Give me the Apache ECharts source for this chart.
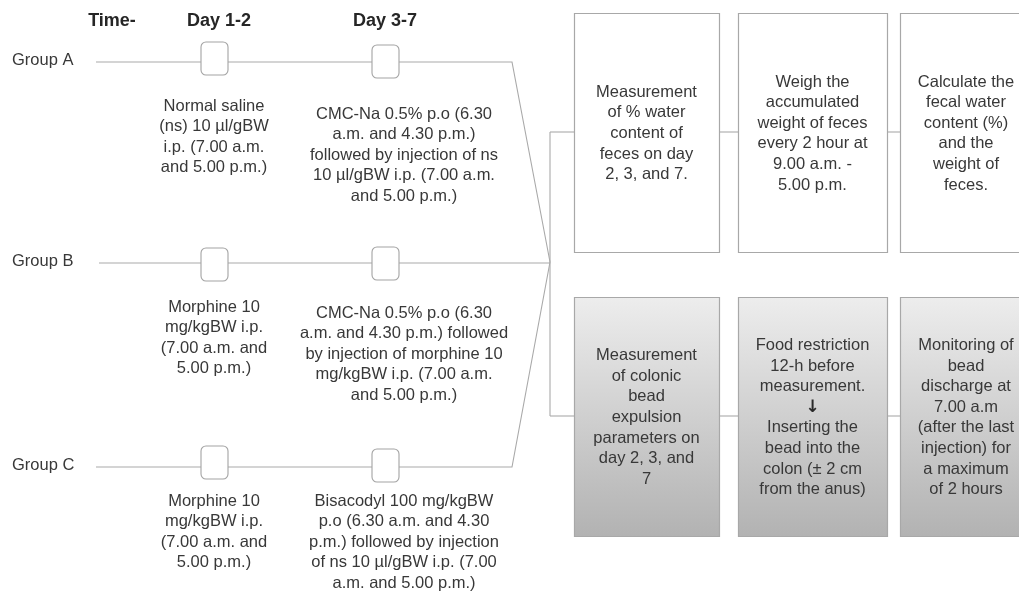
<!DOCTYPE html>
<html>
<head>
<meta charset="utf-8">
<script src="https://cdn.jsdelivr.net/npm/echarts@6/dist/echarts.min.js"></script>
<style>
html,body{margin:0;padding:0;background:#fff;}
#chart{width:1019px;height:594px;}
</style>
</head>
<body>
<div id="chart"></div>
<script>
// ---------------- data (text content) ----------------
const timeTitle = 'Time-';
const periods = ['Day 1-2', 'Day 3-7'];
const groups = ['Group A', 'Group B', 'Group C'];
const day12Treatments = [
  'Normal saline\n(ns) 10 µl/gBW\ni.p. (7.00 a.m.\nand 5.00 p.m.)',
  'Morphine 10\nmg/kgBW i.p.\n(7.00 a.m. and\n5.00 p.m.)',
  'Morphine 10\nmg/kgBW i.p.\n(7.00 a.m. and\n5.00 p.m.)'
];
const day37Treatments = [
  'CMC-Na 0.5% p.o (6.30\na.m. and 4.30 p.m.)\nfollowed by injection of ns\n10 µl/gBW i.p. (7.00 a.m.\nand 5.00 p.m.)',
  'CMC-Na 0.5% p.o (6.30\na.m. and 4.30 p.m.) followed\nby injection of morphine 10\nmg/kgBW i.p. (7.00 a.m.\nand 5.00 p.m.)',
  'Bisacodyl 100 mg/kgBW\np.o (6.30 a.m. and 4.30\np.m.) followed by injection\nof ns 10 µl/gBW i.p. (7.00\na.m. and 5.00 p.m.)'
];
const waterSteps = [
  'Measurement\nof % water\ncontent of\nfeces on day\n2, 3, and 7.',
  'Weigh the\naccumulated\nweight of feces\nevery 2 hour at\n9.00 a.m. -\n5.00 p.m.',
  'Calculate the\nfecal water\ncontent (%)\nand the\nweight of\nfeces.'
];
const beadSteps = [
  'Measurement\nof colonic\nbead\nexpulsion\nparameters on\nday 2, 3, and\n7',
  'Food restriction\n12-h before\nmeasurement.\n{arr|↓}\nInserting the\nbead into the\ncolon (± 2 cm\nfrom the anus)',
  'Monitoring of\nbead\ndischarge at\n7.00 a.m\n(after the last\ninjection) for\na maximum\nof 2 hours'
];

// ---------------- layout (diagram units = page pixels) ----------------
const W = 1019, H = 594;
const FONT = '"Liberation Sans", Arial, Helvetica, sans-serif';
const FS = 16.5, LH = 20.6;
const TXT = '#383838';
const LINE = '#a9a9a9';
const rowY = [62, 263, 467];
const groupLabelX = 12;
const lineStartX = [96, 99, 96];
const lineEndX = 512;
const hub = [550, 262];
const markerX = [201, 372];
const markerTop = [[-20, -17], [-15, -16], [-21, -18]];
const markerW = 27, markerH = 33;
const treatColX = [214, 404];
const treatOffset = [[44, 52], [44, 50], [34, 34]];
const headerY = 21;
const headerX = [112, 219, 385];
const stepCols = [[574, 719], [738, 887], [900, 1032]];
const stepRows = [[13, 252], [297, 536]];
const stepLinkY = [132, 416];

// build line paths
const paths = [];
groups.forEach((g, i) => {
  if (i === 1) paths.push([[lineStartX[i], rowY[i]], [hub[0], rowY[i]]]);
  else paths.push([[lineStartX[i], rowY[i]], [lineEndX, rowY[i]], hub]);
});
paths.push([[hub[0], stepLinkY[0]], [hub[0], stepLinkY[1]]]);
stepLinkY.forEach(y => {
  paths.push([[hub[0], y], [stepCols[0][0], y]]);
  paths.push([[stepCols[0][1], y], [stepCols[1][0], y]]);
  paths.push([[stepCols[1][1], y], [stepCols[2][0], y]]);
});

// markers
const markers = [];
groups.forEach((g, i) => periods.forEach((p, j) => {
  markers.push([markerX[j], rowY[i] + markerTop[i][j]]);
}));

// step boxes
const steps = [];
[waterSteps, beadSteps].forEach((arr, r) => arr.forEach((t, c) => {
  steps.push({x0: stepCols[c][0], x1: stepCols[c][1], y0: stepRows[r][0], y1: stepRows[r][1], text: t, shaded: r === 1});
}));

// texts
const texts = [];
texts.push({x: headerX[0], y: headerY, text: timeTitle, bold: true, align: 'center', va: 'middle'});
periods.forEach((p, j) => texts.push({x: headerX[j + 1], y: headerY, text: p, bold: true, align: 'center', va: 'middle'}));
groups.forEach((g, i) => texts.push({x: groupLabelX, y: rowY[i] - 2, text: g, align: 'left', va: 'middle'}));
groups.forEach((g, i) => {
  texts.push({x: treatColX[0], y: rowY[i] + treatOffset[i][0] - LH / 2, text: day12Treatments[i], align: 'center', va: 'top'});
  texts.push({x: treatColX[1], y: rowY[i] + treatOffset[i][1] - LH / 2, text: day37Treatments[i], align: 'center', va: 'top'});
});

const chart = echarts.init(document.getElementById('chart'), null, {renderer: 'canvas'});
const shadedFill = new echarts.graphic.LinearGradient(0, 0, 0, 1, [
  {offset: 0, color: '#ededed'},
  {offset: 1, color: '#b2b2b2'}
]);

chart.setOption({
  backgroundColor: '#ffffff',
  animation: false,
  grid: {left: 0, right: 0, top: 0, bottom: 0},
  xAxis: {type: 'value', min: 0, max: W, show: false},
  yAxis: {type: 'value', min: 0, max: H, inverse: true, show: false},
  series: [
    {
      type: 'custom', name: 'links', clip: false, silent: true,
      data: paths.map(p => p[0]),
      renderItem: (params, api) => ({
        type: 'polyline',
        shape: {points: paths[params.dataIndex].map(pt => api.coord(pt))},
        style: {stroke: LINE, lineWidth: 1.1, fill: null}
      })
    },
    {
      type: 'custom', name: 'markers', clip: false, silent: true,
      data: markers,
      renderItem: (params, api) => {
        const a = api.coord([api.value(0), api.value(1)]);
        const b = api.coord([api.value(0) + markerW, api.value(1) + markerH]);
        return {
          type: 'rect',
          shape: {x: a[0], y: a[1], width: b[0] - a[0], height: b[1] - a[1], r: 5},
          style: {fill: '#ffffff', stroke: '#a3a3a3', lineWidth: 1.1}
        };
      }
    },
    {
      type: 'custom', name: 'steps', clip: false, silent: true,
      data: steps.map(s => [s.x0, s.y0]),
      renderItem: (params, api) => {
        const s = steps[params.dataIndex];
        const a = api.coord([s.x0, s.y0]);
        const b = api.coord([s.x1, s.y1]);
        return {
          type: 'group',
          children: [
            {
              type: 'rect',
              shape: {x: a[0] + 0.5, y: a[1] + 0.5, width: b[0] - a[0], height: b[1] - a[1]},
              style: {fill: s.shaded ? shadedFill : '#ffffff', stroke: '#a8a8a8', lineWidth: 1.2}
            },
            {
              type: 'text',
              style: {
                text: s.text, x: (a[0] + b[0]) / 2, y: (a[1] + b[1]) / 2 + 1,
                align: 'center', verticalAlign: 'middle',
                fontSize: FS, fontFamily: FONT, lineHeight: LH, fill: TXT,
                rich: {
                  arr: {fontSize: 17, fontWeight: 'bold', fontFamily: '"DejaVu Sans", sans-serif', lineHeight: LH, fill: '#2a2a2a', align: 'center'}
                }
              }
            }
          ]
        };
      }
    },
    {
      type: 'custom', name: 'texts', clip: false, silent: true,
      data: texts.map(t => [t.x, t.y]),
      renderItem: (params, api) => {
        const t = texts[params.dataIndex];
        const p = api.coord([t.x, t.y]);
        return {
          type: 'text',
          style: {
            text: t.text, x: p[0], y: p[1],
            align: t.align, verticalAlign: t.va,
            fontSize: t.bold ? 18 : FS, fontWeight: t.bold ? 'bold' : 'normal',
            fontFamily: FONT, lineHeight: LH, fill: t.bold ? '#262626' : TXT
          }
        };
      }
    }
  ]
});
</script>
</body>
</html>
